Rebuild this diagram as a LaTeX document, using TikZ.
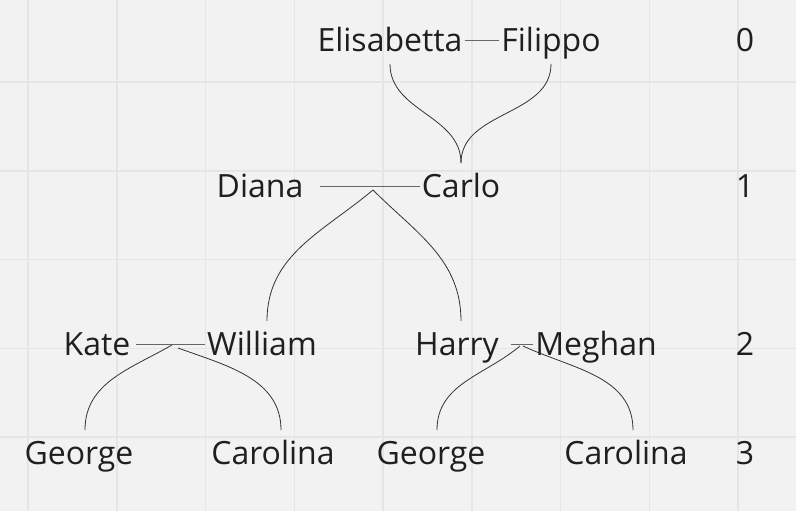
\documentclass[tikz,border=0pt]{standalone}
\usepackage{fontspec}
\setmainfont{Open Sans}
\tikzset{person/.style={anchor=base,inner xsep=2pt,inner ysep=6pt,
        text height=28pt,text depth=6pt,outer sep=0pt,
        font=\fontsize{32}{37}\selectfont,text=black!88},
    couple/.style={draw=black!60,line width=1pt},
    child/.style={draw=black!80,line width=.8pt}
}
\definecolor{paper}{HTML}{F2F2F2}
\definecolor{gridline}{HTML}{E5E5E5}

\begin{document}
\begin{tikzpicture}[x=1pt,y=1pt]
        \fill[paper] (0,0) rectangle (796,-511);
        \useasboundingbox (0,0) rectangle (796,-511);
        \foreach \gx in {0,...,8}
            \draw[gridline,line width=1.5pt] (28+88.75*\gx,0) -- (28+88.75*\gx,-511);
        \foreach \gy in {0,...,4}
            \draw[gridline,line width=1.5pt] (0,-82-88.75*\gy) -- (796,-82-88.75*\gy);
        \begin{scope}[every node/.style={person}]
            \node (elisabetta) at (390,-52) {Elisabetta};
            \node (filippo) at (551,-52) {Filippo};
            \node (diana) at (260,-197) {Diana};
            \node (carlo) at (461,-197) {Carlo};
            \node (kate) at (97,-355) {Kate};
            \node (william) at (262,-355) {William};
            \node (harry) at (457,-355) {Harry};
            \node (meghan) at (596,-355) {Meghan};
            \node (george) at (79,-464) {George};
            \node (carolina) at (273,-464) {Carolina};
            \node (georgeb) at (431,-464) {George};
            \node (carolinab) at (626,-464) {Carolina};
            \node (g0) at (745,-52) {0};
            \node (g1) at (745,-197) {1};
            \node (g2) at (745,-355) {2};
            \node (g3) at (745,-464) {3};
        \end{scope}
        \coordinate (dc) at (373,-190);
        \coordinate (kw) at (172,-345);
        \coordinate (kwb) at (178,-348);
        \coordinate (hm) at (520,-346);
        \coordinate (hmb) at (523,-346);
        \draw[couple] (elisabetta.east) -- (filippo.west);
        \draw[couple,shorten <=15pt] (diana.east) -- (carlo.west);
        \draw[couple,shorten <=4pt] (kate.east) -- (william.west);
        \draw[couple,shorten <=10pt] (harry.east) -- (meghan.west);
        \draw[child] (elisabetta.south) to[out=-90,in=90] (carlo.north);
        \draw[child] (filippo.south) to[out=-90,in=90] (carlo.north);
        \draw[child] (dc) to[out=-140,in=90] ([xshift=5pt]william.north);
        \draw[child] (dc) to[out=-45,in=90] ([xshift=4pt]harry.north);
        \draw[child] (kw) to[out=-150,in=90] ([xshift=6pt]george.north);
        \draw[child] (kwb) to[out=-20,in=90] ([xshift=8pt]carolina.north);
        \draw[child] (hm) to[out=-140,in=90] ([xshift=6pt]georgeb.north);
        \draw[child] (hmb) to[out=-25,in=90] ([xshift=7pt]carolinab.north);
    \end{tikzpicture}
\end{document}
